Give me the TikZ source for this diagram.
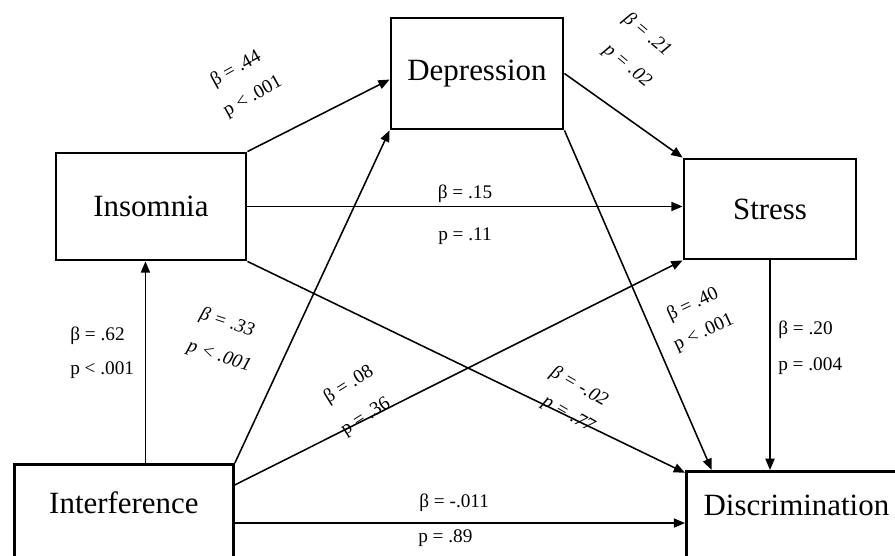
\documentclass[tikz,border=0pt]{standalone}
\usepackage{fontspec}
\setmainfont{Liberation Serif}
\usetikzlibrary{arrows.meta}

\newcommand{\varfont}{\fontsize{22}{26}\selectfont}
\newcommand{\coeffont}{\fontsize{13.7}{16}\selectfont}

\tikzset{
    var/.style={draw, line width=2pt, inner sep=0pt, font=\varfont},
    vartext/.style={inner sep=0pt, font=\varfont},
    coef/.style={inner sep=0pt, font=\coeffont},
    coefit/.style={coef, font=\coeffont\itshape},
    link/.style={line width=1.1pt, ->}
}

\begin{document}
\begin{tikzpicture}[x=0.025cm, y=-0.025cm, >={Triangle[length=8pt, width=6.5pt]}]
    \useasboundingbox (0,0) rectangle (895,556);

    % variables
    \node[var, minimum width=4.75cm, minimum height=2.675cm] (ins) at (151,206.5) {Insomnia};
    \node[var, minimum width=4.3cm, minimum height=2.775cm] (dep) at (477,73.5) {Depression};
    \node[var, minimum width=4.3cm, minimum height=2.5cm] (str) at (770,209) {Stress};
    \node[var, anchor=north west, minimum width=5.475cm, minimum height=3.5cm] (intf) at (13,463) {};
    \node[vartext] (intftext) at ([yshift=-28pt]intf.north) {Interference};
    \node[var, anchor=north west, minimum width=5.5cm, minimum height=3.5cm] (dis) at (685,470) {};
    \node[vartext] (distext) at ([yshift=-25pt]dis.north) {Discrimination};

    % paths
    \coordinate (intfup) at ([xshift=15.3pt]intf.north);
    \coordinate (intfst) at ([yshift=-15.6pt]intf.north east);
    \coordinate (intfdi) at ([yshift=-42.7pt]intf.north east);

    \draw[link] (ins.north east) -- ([yshift=-4.3pt]dep.west);
    \draw[link] (dep.east) -- (str.north west);
    \draw[link] (ins.east) -- (ins.east -| str.west);
    \draw[link] (ins.south east) -- ([yshift=-2pt]dis.north west);
    \draw[link] (dep.south east) -- ([xshift=19pt]dis.north west);
    \draw[link] (str.south) -- (str.south |- dis.north);
    \draw[link] (intfup) -- (intfup |- ins.south);
    \draw[link] (intf.north east) -- (dep.south west);
    \draw[link] (intfst) -- (str.south west);
    \draw[link] (intfdi) -- (intfdi -| dis.west);

    % coefficients
    \node[coef, rotate=29] (b-id) at (236,69) {β = .44};
    \node[coef, rotate=29] (p-id) at (253,97) {p < .001};

    \node[coefit, rotate=-40] (b-ds) at (647,35) {β = .21};
    \node[coefit, rotate=-40] (p-ds) at (627,66) {p = .02};

    \node[coef] (b-is) at (465,194) {β = .15};
    \node[coef] (p-is) at (465,236) {p = .11};

    \node[coef, anchor=west] (b-fi) at (70,336) {β = .62};
    \node[coef, anchor=west] (p-fi) at (70,370) {p < .001};

    \node[coefit, rotate=-18] (b-fd) at (227,323) {β = .33};
    \node[coefit, rotate=-18] (p-fd) at (219,357) {p < .001};

    \node[coef, rotate=32] (b-fs) at (349,385) {β = .08};
    \node[coef, rotate=32] (p-fs) at (366,417) {p = .36};

    \node[coefit, rotate=-30] (b-iw) at (579,387) {β = -.02};
    \node[coefit, rotate=-30] (p-iw) at (568,415) {p = .77};

    \node[coef, rotate=25] (b-dw) at (693,305) {β = .40};
    \node[coef, rotate=25] (p-dw) at (704,333) {p < .001};

    \node[coef, anchor=west] (b-sw) at (778,330) {β = .20};
    \node[coef, anchor=west] (p-sw) at (778,366) {p = .004};

    \node[coef, anchor=west] (b-fw) at (419,503) {β = -.011};
    \node[coef, anchor=west] (p-fw) at (418,538) {p = .89};
\end{tikzpicture}
\end{document}
